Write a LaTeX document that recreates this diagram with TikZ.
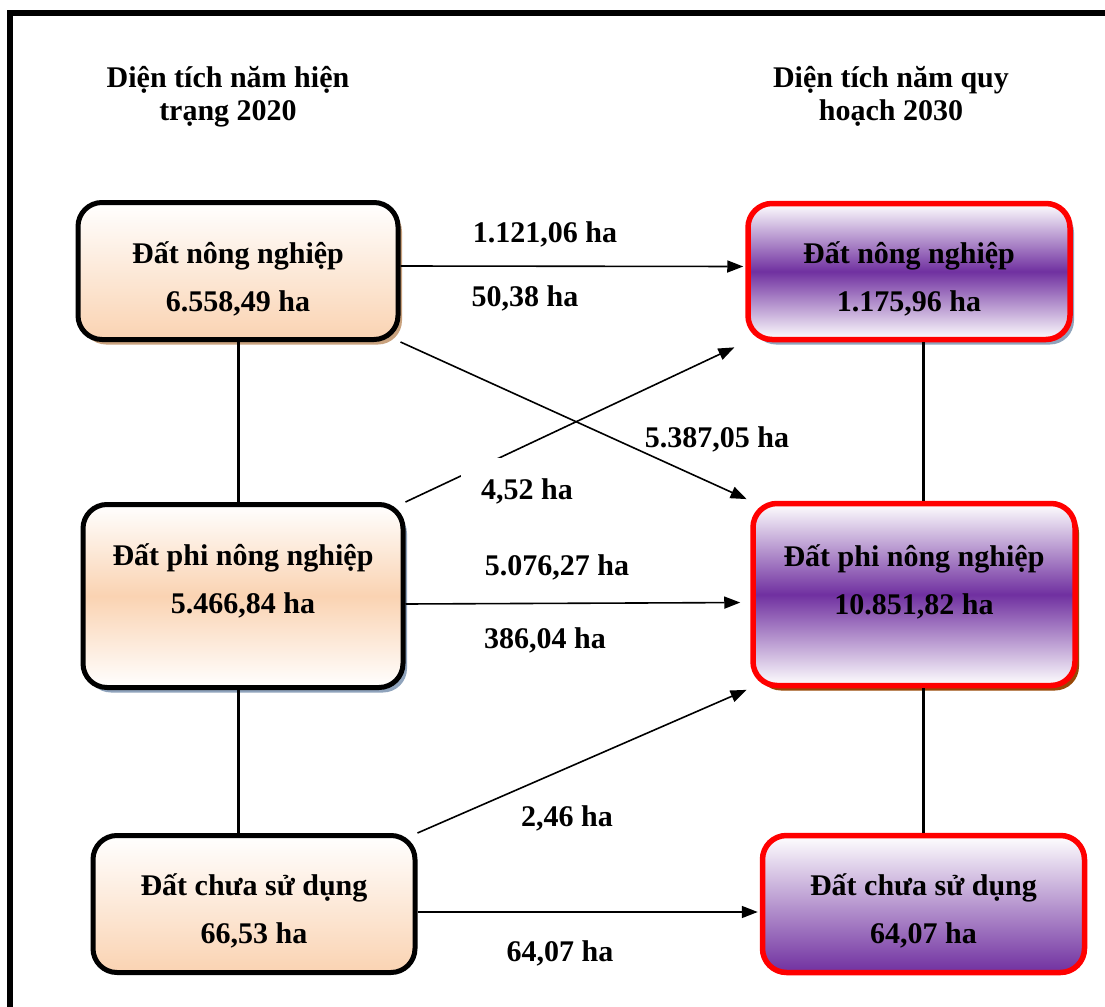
\documentclass[tikz,border=0pt]{standalone}
\usepackage{fontspec}
\setmainfont{Liberation Serif}
\usetikzlibrary{arrows.meta,shadows}
\definecolor{peach}{HTML}{FAD3B2}
\definecolor{plum}{HTML}{7030A0}
\definecolor{shadowtan}{HTML}{C9A27E}
\definecolor{shadowblue}{HTML}{8FA3BC}
\definecolor{shadowbrown}{HTML}{984806}
\newcommand{\twolines}[3]{\rule{0pt}{24pt}#1\\#2\rule[-#3]{0pt}{0pt}}

\begin{document}
\begin{tikzpicture}
        [x=0.5pt,y=-0.5pt,
        every node/.style={font=\bfseries\fontsize{15}{24}\selectfont,align=center},
        oldbox/.style={rectangle,rounded corners=12pt,draw=black,line width=2.5pt,
                       top color=white,bottom color=peach},
        newbox/.style={rectangle,rounded corners=12pt,draw=red,line width=2.75pt,
                       top color=white,bottom color=plum},
        centre/.style={bottom color=white,middle color=#1},
        shade/.style={drop shadow={fill=#1,opacity=1,shadow xshift=2pt,shadow yshift=-2.5pt}},
        hdr/.style={font=\bfseries\fontsize{15}{16.5}\selectfont},
        lbl/.style={anchor=base,font=\bfseries\fontsize{15}{18}\selectfont},
        flow/.style={line width=0.8pt,-{Triangle[length=8pt,width=6pt]}},
        link/.style={line width=1.5pt}]
        \useasboundingbox (0,0) rectangle (1105,1007);
        \draw[line width=3pt] (10,1007) -- (10,13) -- (1105,13);

        \node[hdr] (hdrold) at (228,97) {Diện tích năm hiện\\trạng 2020};
        \node[hdr] (hdrnew) at (891,96) {Diện tích năm quy\\hoạch 2030};

        \node[oldbox,shade=shadowtan,minimum width=160pt,minimum height=68.5pt]
            (oldnn) at (238,271) {\twolines{Đất nông nghiệp}{6.558,49 ha}{7.5pt}};
        \node[oldbox,centre=peach,shade=shadowblue,minimum width=160pt,minimum height=91.5pt]
            (oldpnn) at (243,596) {\twolines{Đất phi nông nghiệp}{5.466,84 ha}{31pt}};
        \node[oldbox,minimum width=161pt,minimum height=68.5pt]
            (oldcsd) at (254,904) {\twolines{Đất chưa sử dụng}{66,53 ha}{9pt}};

        \node[newbox,centre=plum,shade=shadowblue,minimum width=161pt,minimum height=68pt]
            (newnn) at (909,271.5) {\twolines{Đất nông nghiệp}{1.175,96 ha}{8.5pt}};
        \node[newbox,centre=plum,shade=shadowbrown,minimum width=161pt,minimum height=91pt]
            (newpnn) at (914,594.5) {\twolines{Đất phi nông nghiệp}{10.851,82 ha}{28.5pt}};
        \node[newbox,minimum width=161pt,minimum height=68.5pt]
            (newcsd) at (923.5,904) {\twolines{Đất chưa sử dụng}{64,07 ha}{9pt}};

        \draw[link] (oldnn.south) -- (oldnn.south |- oldpnn.north);
        \draw[link] (oldnn.south |- oldpnn.south) -- (oldnn.south |- oldcsd.north);
        \draw[link] (newcsd.north |- newnn.south) -- (newcsd.north |- newpnn.north);
        \draw[link] (newcsd.north |- newpnn.south) -- (newcsd.north);

        \draw[flow,shorten >=1pt] ([yshift=2.5pt]oldnn.east) -- ([yshift=2.5pt]newnn.west);
        \draw[flow,shorten >=2pt] (oldnn.south east) -- (newpnn.north west);
        \draw[flow,shorten >=6pt] (oldpnn.north east) -- (newnn.south west);
        \draw[flow,shorten >=5pt] ([yshift=-4pt]oldpnn.east) -- ([yshift=-4pt]newpnn.west);
        \draw[flow,shorten >=2pt] (oldcsd.north east) -- (newpnn.south west);
        \draw[flow,shorten >=1pt] ([yshift=-4pt]oldcsd.east) -- ([yshift=-4pt]newcsd.west);

        \node[lbl] (l1) at (545,242) {1.121,06 ha};
        \node[lbl] (l2) at (525,306) {50,38 ha};
        \node[lbl] (l3) at (717,447) {5.387,05 ha};
        \node[lbl,fill=white,inner xsep=10pt,inner ysep=10pt] (l4) at (527,499) {4,52 ha};
        \node[lbl] (l5) at (557,575) {5.076,27 ha};
        \node[lbl] (l6) at (545,648) {386,04 ha};
        \node[lbl] (l7) at (567,826) {2,46 ha};
        \node[lbl] (l8) at (560,961) {64,07 ha};
\end{tikzpicture}
\end{document}
